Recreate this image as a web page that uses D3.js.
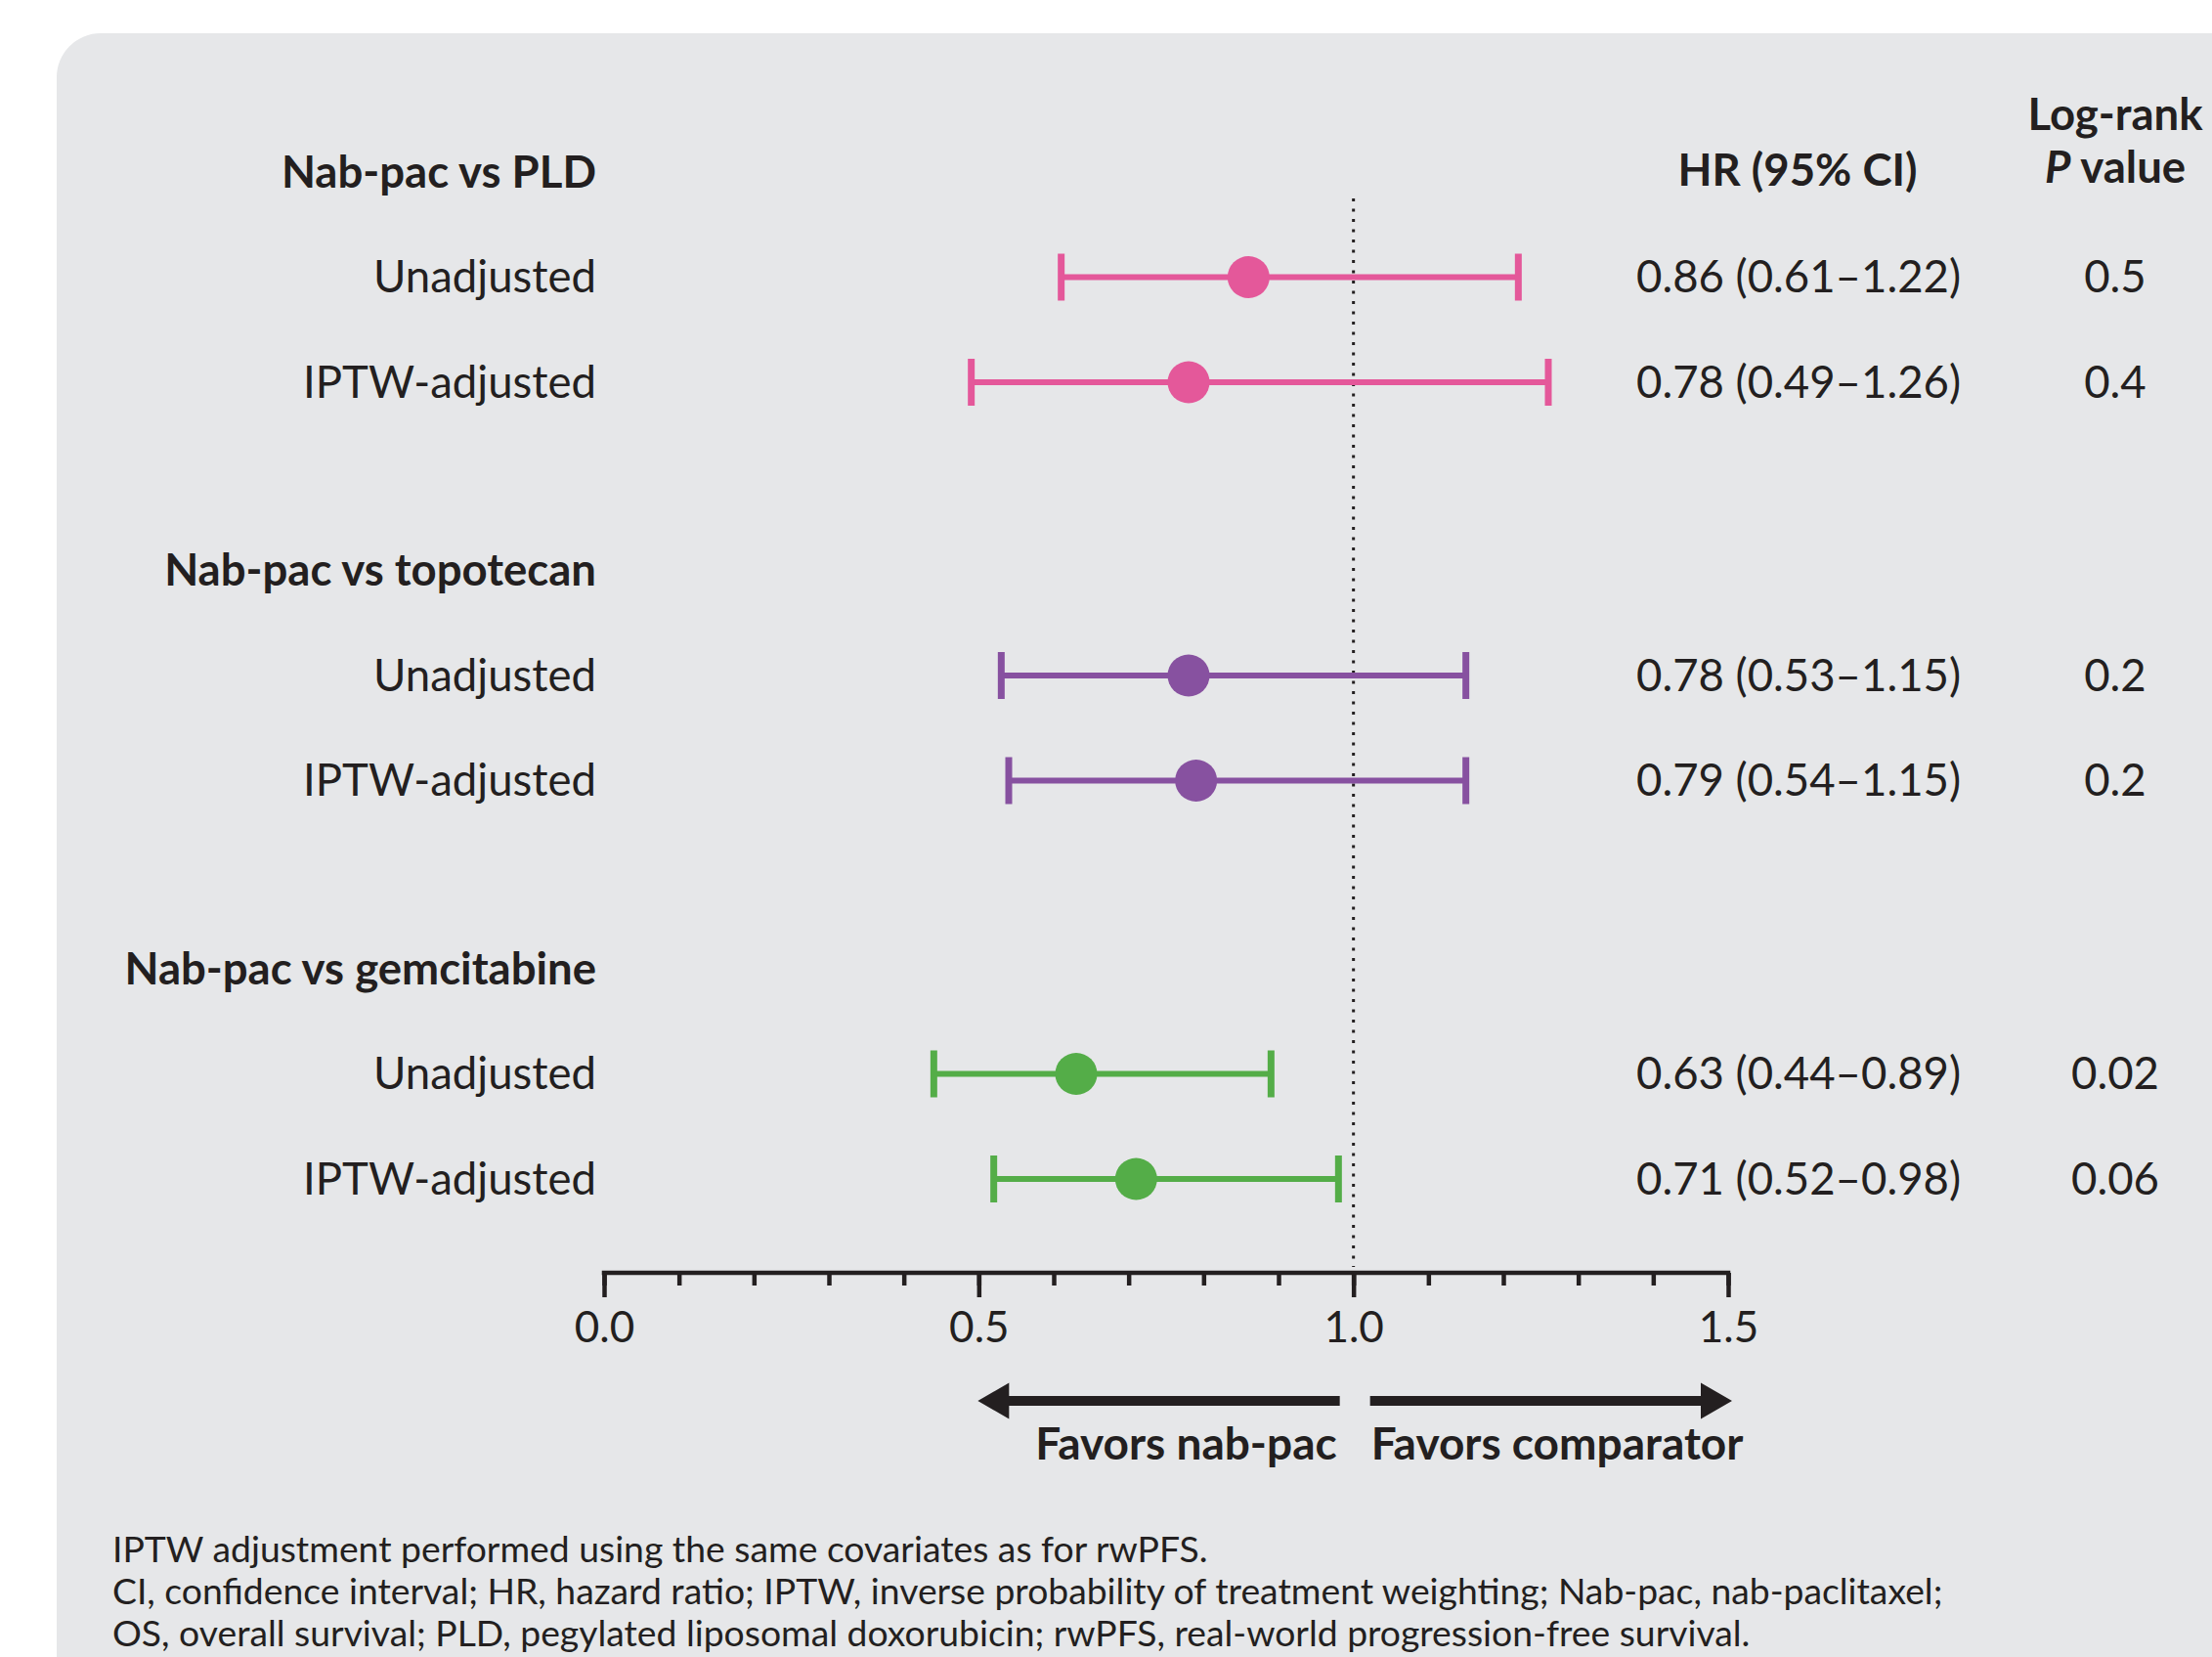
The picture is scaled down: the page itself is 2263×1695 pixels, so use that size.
<!DOCTYPE html>
<html>
<head>
<meta charset="utf-8">
<script src="https://cdn.jsdelivr.net/npm/d3@7"></script>
<style>
  html, body { margin: 0; padding: 0; background: #ffffff; }
  svg { display: block; }
  text { font-family: Lato, "Open Sans", sans-serif; fill: #231f20; }
</style>
</head>
<body>
<svg id="chart" width="2263" height="1695"></svg>
<script>
// ---- Data ----
const groups = ["Nab-pac vs PLD", "Nab-pac vs topotecan", "Nab-pac vs gemcitabine"];
const rowLabels = ["Unadjusted", "IPTW-adjusted"];
const hrValues = [0.86, 0.78, 0.78, 0.79, 0.63, 0.71];
const ciLower = [0.61, 0.49, 0.53, 0.54, 0.44, 0.52];
const ciUpper = [1.22, 1.26, 1.15, 1.15, 0.89, 0.98];
const pValues = ["0.5", "0.4", "0.2", "0.2", "0.02", "0.06"];
const groupColors = ["#e4589a", "#8751a0", "#54ad48"];
const majorTicks = [0, 0.5, 1.0, 1.5];
const minorTicks = [0, 0.1, 0.2, 0.3, 0.4, 0.5, 0.6, 0.7, 0.8, 0.9, 1.0, 1.1, 1.2, 1.3, 1.4, 1.5];
const headerHR = "HR (95% CI)";
const headerP1 = "Log-rank";
const footnotes = [
  "IPTW adjustment performed using the same covariates as for rwPFS.",
  "CI, confidence interval; HR, hazard ratio; IPTW, inverse probability of treatment weighting; Nab-pac, nab-paclitaxel;",
  "OS, overall survival; PLD, pegylated liposomal doxorubicin; rwPFS, real-world progression-free survival."
];

const rows = [];
groups.forEach((g, gi) => {
  rowLabels.forEach((r, ri) => {
    const i = gi * rowLabels.length + ri;
    rows.push({ group: g, gi, label: r, hr: hrValues[i], lo: ciLower[i], hi: ciUpper[i], p: pValues[i] });
  });
});

// ---- Layout ----
const svg = d3.select("#chart");
const FS = 45.5;
const textColor = "#231f20";

// panel
svg.append("rect")
  .attr("x", 58).attr("y", 34)
  .attr("width", 2400).attr("height", 1800)
  .attr("rx", 45).attr("ry", 45)
  .attr("fill", "#e6e7e9");

const x = d3.scaleLinear().domain([0, 1.5]).range([618, 1768]);
const groupY = d3.scalePoint().domain(groups).range([176, 991]);
const rowY = d3.scalePoint().domain(["header", ...rowLabels]).range([0, 215]);
const yOf = d => groupY(d.group) + rowY(d.label);

const labelX = 610;

// group headers
svg.append("g").selectAll("text").data(groups).join("text")
  .attr("x", labelX).attr("y", d => groupY(d)).attr("dy", "0.35em")
  .attr("text-anchor", "end")
  .attr("font-size", FS).attr("font-weight", 700)
  .text(d => d);

// row labels
svg.append("g").selectAll("text").data(rows).join("text")
  .attr("x", labelX).attr("y", yOf).attr("dy", "0.35em")
  .attr("text-anchor", "end")
  .attr("font-size", FS)
  .text(d => d.label);

// reference dotted line at HR = 1
svg.append("line")
  .attr("x1", x(1)).attr("x2", x(1))
  .attr("y1", 203).attr("y2", 1296)
  .attr("stroke", textColor).attr("stroke-width", 3)
  .attr("stroke-dasharray", "3,7.5");

// CI lines
const ci = svg.append("g").selectAll("g").data(rows).join("g")
  .attr("transform", d => `translate(0,${yOf(d)})`);
ci.append("line")
  .attr("x1", d => x(d.lo)).attr("x2", d => x(d.hi))
  .attr("y1", 0).attr("y2", 0)
  .attr("stroke", d => groupColors[d.gi]).attr("stroke-width", 6);
ci.append("line")
  .attr("x1", d => x(d.lo)).attr("x2", d => x(d.lo))
  .attr("y1", -24).attr("y2", 24)
  .attr("stroke", d => groupColors[d.gi]).attr("stroke-width", 7);
ci.append("line")
  .attr("x1", d => x(d.hi)).attr("x2", d => x(d.hi))
  .attr("y1", -24).attr("y2", 24)
  .attr("stroke", d => groupColors[d.gi]).attr("stroke-width", 7);
ci.append("circle")
  .attr("cx", d => x(d.hr)).attr("cy", 0).attr("r", 21.5)
  .attr("fill", d => groupColors[d.gi]);

// HR text column
const fmt = d3.format(".2f");
svg.append("g").selectAll("text").data(rows).join("text")
  .attr("x", 1674).attr("y", yOf).attr("dy", "0.35em")
  .attr("font-size", FS)
  .text(d => `${fmt(d.hr)} (${fmt(d.lo)}–${fmt(d.hi)})`);

// P value column
svg.append("g").selectAll("text").data(rows).join("text")
  .attr("x", 2164).attr("y", yOf).attr("dy", "0.35em")
  .attr("text-anchor", "middle")
  .attr("font-size", FS)
  .text(d => d.p);

// column headers
svg.append("text")
  .attr("x", 1839).attr("y", 190)
  .attr("text-anchor", "middle").attr("font-size", FS).attr("font-weight", 700)
  .text(headerHR);
svg.append("text")
  .attr("x", 2164).attr("y", 133)
  .attr("text-anchor", "middle").attr("font-size", FS).attr("font-weight", 700)
  .text(headerP1);
const pv = svg.append("text")
  .attr("x", 2164).attr("y", 187)
  .attr("text-anchor", "middle").attr("font-size", FS).attr("font-weight", 700);
pv.append("tspan").attr("font-style", "italic").text("P");
pv.append("tspan").text(" value");

// x axis
const axisY = 1302;
const minorAxis = svg.append("g").attr("transform", `translate(0,${axisY})`)
  .call(d3.axisBottom(x).tickValues(minorTicks).tickSize(13).tickSizeOuter(0).tickFormat(""));
minorAxis.select(".domain").remove();
minorAxis.selectAll(".tick line").attr("stroke", textColor).attr("stroke-width", 4.5);

const majorAxis = svg.append("g").attr("transform", `translate(0,${axisY})`)
  .call(d3.axisBottom(x).tickValues(majorTicks).tickSize(25).tickSizeOuter(0).tickFormat(d3.format(".1f")));
majorAxis.select(".domain")
  .attr("stroke", textColor).attr("stroke-width", 4.5)
  .attr("d", `M${x(0) - 2.25},0H${x(1.5) + 2.25}`);
majorAxis.selectAll(".tick line").attr("stroke", textColor).attr("stroke-width", 4.5);
majorAxis.selectAll(".tick text")
  .attr("y", 71).attr("dy", null)
  .attr("font-size", 44).attr("font-family", "Lato, sans-serif")
  .attr("fill", textColor);

// favour arrows
const arrowY = 1433;
const headLen = 32, headHalf = 18.5, shaft = 10;
function arrowPath(xStart, xTip) {
  const dir = Math.sign(xTip - xStart);
  const xb = xTip - dir * headLen;
  return `M${xStart},${arrowY - shaft / 2}L${xb},${arrowY - shaft / 2}L${xb},${arrowY - headHalf}` +
         `L${xTip},${arrowY}L${xb},${arrowY + headHalf}L${xb},${arrowY + shaft / 2}L${xStart},${arrowY + shaft / 2}Z`;
}
svg.append("path").attr("d", arrowPath(x(1) - 14, x(0.5) - 1)).attr("fill", textColor);
svg.append("path").attr("d", arrowPath(x(1) + 17, x(1.5) + 4)).attr("fill", textColor);
svg.append("text")
  .attr("x", x(1) - 17).attr("y", 1493)
  .attr("text-anchor", "end").attr("font-size", 46).attr("font-weight", 700)
  .text("Favors nab-pac");
svg.append("text")
  .attr("x", x(1) + 18).attr("y", 1493)
  .attr("font-size", 46).attr("font-weight", 700)
  .text("Favors comparator");

// footnotes
svg.append("g").selectAll("text").data(footnotes).join("text")
  .attr("x", 115).attr("y", (d, i) => 1598 + i * 43)
  .attr("font-size", 37.3)
  .text(d => d);
</script>
</body>
</html>
